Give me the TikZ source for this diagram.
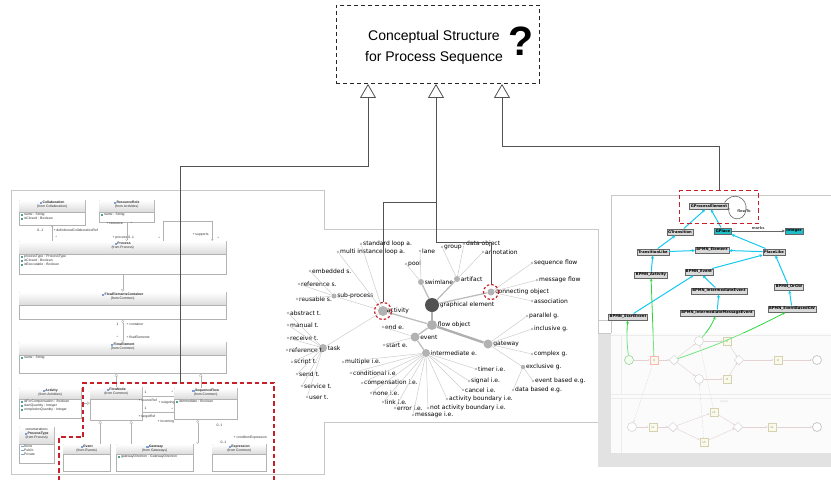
\documentclass[tikz,border=0pt]{standalone}
\usepackage{fontspec}
\setmainfont{Liberation Sans}
\newfontfamily\dvs{DejaVu Sans}
\usetikzlibrary{arrows.meta,calc,shapes.geometric}

\definecolor{redd}{RGB}{200,32,40}
\definecolor{framec}{RGB}{200,200,200}
\definecolor{cyanl}{RGB}{20,200,240}
\definecolor{greenl}{RGB}{40,215,60}
\definecolor{placec}{RGB}{30,190,200}
\definecolor{umlblue}{RGB}{120,160,220}
\definecolor{umlteal}{RGB}{80,160,150}
\definecolor{flowc}{RGB}{215,185,185}
\definecolor{taskd}{RGB}{195,185,140}
\definecolor{taskf}{RGB}{248,248,222}

\newcommand\umlfont{\fontsize{3.4}{4}\selectfont}
\newcommand\trfont{\dvs\fontsize{6}{6.5}\selectfont}
\newcommand\mmfont{\dvs\bfseries\fontsize{3.7}{4}\selectfont}
\newcommand\bpfont{\fontsize{3}{3}\selectfont}
\newcommand\uicon{\textcolor{umlblue}{\rule{2.2pt}{2.2pt}}\hspace{0.5pt}}
\newcommand\aicon{\textcolor{umlteal}{\rule{2.4pt}{2pt}}\hspace{0.6pt}}
\newcommand\licon{\textcolor{umlblue}{\rule[0.6pt]{2.6pt}{0.9pt}}\hspace{0.6pt}}

\tikzset{
  frame/.style={draw=framec, line width=0.7pt},
  conn/.style={draw=black!68, line width=0.85pt},
  gen/.style={conn, -{Triangle[open, length=14pt, width=16pt, line width=0.8pt]}},
  reddash/.style={draw=redd, line width=1.4pt, dash pattern=on 4.5pt off 3pt},
  umlnode/.style={draw=gray!60, fill=white, line width=0.4pt, inner sep=0pt},
  umltitle/.style={font=\umlfont, text=black!85, align=center, inner sep=0.3pt},
  umlattr/.style={font=\umlfont, text=black!80, align=left, inner sep=0.3pt},
  umllbl/.style={font=\umlfont, text=black!80, inner sep=0.3pt, anchor=west},
  umlline/.style={draw=gray!60, line width=0.4pt},
  umlgen/.style={umlline, -{Triangle[open, length=3pt, width=3.5pt]}},
  tnode/.style={circle, fill=gray!60, inner sep=0pt, minimum size=#1},
  tlabel/.style={font=\trfont, text=black, inner sep=0.4pt},
  leaf/.style={circle, fill=gray!55, inner sep=0pt, minimum size=2.8pt,
    label={[tlabel]right:#1}},
  tthick/.style={draw=gray!62, line width=2.4pt},
  tmed/.style={draw=gray!52, line width=1.3pt},
  tthin/.style={draw=gray!40, line width=0.5pt},
  mm/.style={draw=black!60, fill=gray!30, font=\mmfont, inner sep=1.2pt,
    minimum height=6.5pt, line width=0.5pt},
  mmc/.style={mm, fill=placec},
  cy/.style={draw=cyanl, line width=1pt, -{Stealth[length=3.2pt, width=3.2pt]}},
  gr/.style={draw=greenl, line width=0.8pt, -{Stealth[length=3pt, width=2.8pt]}},
  bcirc/.style={circle, draw=gray!55, fill=white, minimum size=9pt, inner sep=0pt, line width=0.5pt},
  btask/.style={draw=taskd, fill=taskf, minimum width=8.5pt, minimum height=7.5pt,
    inner sep=0pt, font=\bpfont, text=black!60, line width=0.4pt},
  bdiam/.style={diamond, draw=gray!55, fill=white, minimum size=9.5pt, inner sep=0pt, line width=0.5pt},
  bflow/.style={draw=flowc, line width=0.4pt, -{Stealth[length=2pt, width=2pt]}},
  bdflow/.style={bflow, dash pattern=on 1pt off 1pt},
  lanec/.style={draw=gray!22, line width=0.5pt}
}

% UML class box: name, x, y, width, height, header height, title, package
\newcommand\umlbox[8]{%
  \node[umlnode, minimum width=#4pt, minimum height=#5pt, anchor=north west] (#1) at (#2,#3) {};
  \shade[top color=white, bottom color=gray!28]
    ([shift={(0.3pt,-0.3pt)}]#1.north west) rectangle ([shift={(-0.3pt,-#6pt)}]#1.north east);
  \draw[umlline] ([yshift=-#6pt]#1.north west) -- ([yshift=-#6pt]#1.north east);
  \node[umltitle, anchor=north] (#1-t) at ([yshift=-1pt]#1.north) {\uicon\textbf{#7}\\(from #8)};
}
\newcommand\umlattrs[3]{%
  \node[umlattr, anchor=north west, yshift=-1pt] (#1-a) at ([shift={(1.5pt,-#2pt)}]#1.north west) {#3};
}

\begin{document}
\begin{tikzpicture}[x=1pt, y=-1pt]
\useasboundingbox (0,0) rectangle (831,480);

% ---------- panel outlines ----------
\draw[frame] (324,229) -- (324,190) -- (11,190) -- (11,474) -- (324,474) -- (324,422);
\draw[frame] (324,229) -- (598,229) -- (598,333);
\draw[frame] (324,422) -- (598,422);
\draw[frame] (611,333) -- (611,195) -- (831,195);

% ---------- title box ----------
\node[draw=black!85, line width=0.9pt, dash pattern=on 4pt off 3pt,
      minimum width=203pt, minimum height=78pt, anchor=north west] (q) at (336,5) {};
\node[font=\fontsize{14}{21}\selectfont, align=center] (ttl) at (434,47)
  {Conceptual Structure\\for Process Sequence};
\node[font=\bfseries\fontsize{41}{41}\selectfont] (qm) at (521,41) {?};

% ---------- UML class diagram ----------
\umlbox{collab}{19}{200}{66}{25}{12}{Collaboration}{Collaboration}
\umlattrs{collab}{12}{\aicon name : String\\\aicon isClosed : Boolean}
\umlbox{resrole}{99}{200}{55}{22}{12}{ResourceRole}{Activities}
\umlattrs{resrole}{12}{\aicon name : String}
\umlbox{proc}{19}{241}{207}{33}{13}{Process}{Process}
\umlattrs{proc}{13}{\aicon processType : ProcessType\\\aicon isClosed : Boolean\\\aicon isExecutable : Boolean}
\umlbox{fec}{19}{292}{207}{27}{13}{FlowElementsContainer}{Common}
\umlbox{fe}{19}{342}{207}{31}{13}{FlowElement}{Common}
\umlattrs{fe}{13}{\aicon name : String}
\umlbox{uact}{19}{388}{62}{30}{11}{Activity}{Activities}
\umlattrs{uact}{11}{\aicon isForCompensation : Boolean\\\aicon startQuantity : Integer\\\aicon completionQuantity : Integer}
\umlbox{fn}{90}{387}{52}{33}{12}{FlowNode}{Common}
\umlbox{sf}{174}{388}{63}{31}{11}{SequenceFlow}{Common}
\umlattrs{sf}{11}{\aicon isImmediate : Boolean}
\umlbox{evt}{63}{444}{47}{27}{10}{Event}{Events}
\umlbox{gwy}{116}{444}{77}{27}{10}{Gateway}{Gateways}
\umlattrs{gwy}{10}{\aicon gatewayDirection : GatewayDirection}
\umlbox{expr}{212}{444}{54}{27}{10}{Expression}{Common}

\node[umlnode, minimum width=35pt, minimum height=36pt, anchor=north west] (ptype) at (19,427) {};
\shade[top color=white, bottom color=gray!28]
  ([shift={(0.3pt,-0.3pt)}]ptype.north west) rectangle ([shift={(-0.3pt,-17pt)}]ptype.north east);
\draw[umlline] ([yshift=-17pt]ptype.north west) -- ([yshift=-17pt]ptype.north east);
\node[umltitle, anchor=north] (ptype-t) at ([yshift=-0.8pt]ptype.north)
  {«enumeration»\\\uicon\textbf{ProcessType}\\(from Process)};
\node[umlattr, anchor=north west] (ptype-a) at ([shift={(1.5pt,-18pt)}]ptype.north west)
  {\licon None\\\licon Public\\\licon Private};

% UML associations
\draw[umlline, {Straight Barb[length=1.5pt, width=2.2pt]}-] (collab.south) -- (collab.south |- proc.north);
\draw[umlline, -{Straight Barb[length=1.5pt, width=2.2pt]}] (resrole.south) -- (resrole.south |- proc.north);
\draw[umlline, -{Straight Barb[length=1.5pt, width=2.2pt]}]
  ([xshift=40.5pt]proc.north) -- ++(0,-20) -| ([xshift=89.5pt]proc.north);
\draw[umlgen] (proc.south) -- (fec.north);
\draw[umlline, {Diamond[open, length=4pt, width=2.6pt]}-{Straight Barb[length=1.5pt, width=2.2pt]}]
  (fec.south) -- (fe.north);
\draw[umlgen] (fn.north) -- (fn.north |- fe.south);
\draw[umlgen] ([xshift=-5pt]sf.north) -- ([xshift=-5pt]sf.north |- fe.south);
\draw[umlgen] (uact.east) -- (uact.east -| fn.west);
\draw[umlline] ([yshift=-9pt]fn.north east) -- ([yshift=-9pt]fn.north east -| sf.west);
\draw[umlline] ([yshift=-25pt]fn.north east) -- ([yshift=-25pt]fn.north east -| sf.west);
\draw[umlgen] ([xshift=13.5pt]evt.north) -- ([xshift=13.5pt]evt.north |- fn.south);
\draw[umlgen] ([xshift=-23.5pt]gwy.north) -- ([xshift=-23.5pt]gwy.north |- fn.south);
\draw[umlline, {Diamond[open, length=4pt, width=2.6pt]}-{Straight Barb[length=1.5pt, width=2.2pt]}]
  ([xshift=-8pt]sf.south) -- ([xshift=-8pt]sf.south |- expr.north);

% association end labels
\node[umllbl] (la1) at (37,230) {0..1};
\node[umllbl] (la2) at (53,230) {+ definitionalCollaborationRef};
\node[umllbl] (la3) at (55,237) {*};
\node[umllbl] (la4) at (106,224) {+ resource};
\node[umllbl] (la5) at (130,223) {*};
\node[umllbl] (la6) at (112,238) {+ process 0..1};
\node[umllbl] (la7) at (158,238) {*};
\node[umllbl] (la8) at (192,235) {+ supports};
\node[umllbl] (la9) at (217,238) {*};
\node[umllbl] (lb1) at (116,324) {1};
\node[umllbl] (lb2) at (126,324) {+ container};
\node[umllbl] (lb3) at (116,337) {*};
\node[umllbl] (lb4) at (126,337) {+ flowElements};
\node[umllbl] (lc1) at (144,392) {1};
\node[umllbl] (lc2) at (138,400) {+ sourceRef};
\node[umllbl] (lc3) at (158,403) {+ outgoing};
\node[umllbl] (lc4) at (171,392) {*};
\node[umllbl] (lc5) at (144,408) {1};
\node[umllbl] (lc6) at (138,417) {+ targetRef};
\node[umllbl] (lc7) at (157,422) {+ incoming};
\node[umllbl] (lc8) at (171,409) {*};
\node[umllbl] (ld1) at (216,425) {0..1};
\node[umllbl] (ld2) at (233,438) {+ conditionExpression};
\node[umllbl] (ld3) at (220,442) {0..1};

% highlighted region of the class diagram
\draw[reddash] (59,480) |- (83,437) |- (274,383) -- (274,480);
\coordinate (lhook) at (180,383);

% ---------- BPMN taxonomy tree ----------
\node[tnode=14pt, fill=black!68, label={[tlabel]right:graphical element}] (ge) at (432,305) {};
\node[tnode=10pt, fill=gray!62, label={[tlabel]right:flow object}] (fo) at (432,325) {};
\node[tnode=6pt, label={[tlabel]right:swimlane}] (sw) at (421,282) {};
\node[tnode=6pt, label={[tlabel]right:artifact}] (ar) at (457,279) {};
\node[tnode=7pt, label={[tlabel]right:connecting object}] (co) at (491,292) {};
\node[tnode=10pt, label={[tlabel, xshift=-2pt]right:activity}] (tact) at (383,311) {};
\node[tnode=9pt, label={[tlabel]right:event}] (ev) at (415,337) {};
\node[tnode=9pt, label={[tlabel]right:gateway}] (gw) at (488,344) {};
\node[tnode=8pt, label={[tlabel]right:intermediate e.}] (ie) at (426,353) {};
\node[tnode=8pt, label={[tlabel]right:task}] (task) at (323,348) {};
\node[tnode=5pt, label={[tlabel]right:sub-process}] (sub) at (334,296) {};
\node[tnode=4.5pt, label={[tlabel]right:exclusive g.}] (exc) at (523,367) {};

\node[leaf=pool] (pool) at (406,264) {};
\node[leaf=lane] (lane) at (420,251) {};
\node[leaf=group] (grp) at (442,247) {};
\node[leaf=data object] (dobj) at (464,244) {};
\node[leaf=annotation] (annot) at (483,252) {};
\node[leaf=sequence flow] (seqf) at (532,263) {};
\node[leaf=message flow] (msgf) at (537,280) {};
\node[leaf=association] (assoc) at (532,301) {};
\node[leaf=standard loop a.] (sla) at (361,244) {};
\node[leaf=multi instance loop a.] (mila) at (338,252) {};
\node[leaf=embedded s.] (emb) at (310,271) {};
\node[leaf=reference s.] (refs) at (299,284) {};
\node[leaf=reusable s.] (reus) at (297,299) {};
\node[leaf=abstract t.] (abst) at (288,313) {};
\node[leaf=manual t.] (man) at (288,325) {};
\node[leaf=receive t.] (recv) at (288,338) {};
\node[leaf=reference t.] (reft) at (287,350) {};
\node[leaf=script t.] (scr) at (292,362) {};
\node[leaf=send t.] (send) at (297,374) {};
\node[leaf=service t.] (serv) at (302,386) {};
\node[leaf=user t.] (user) at (307,397) {};
\node[leaf=end e.] (ende) at (383,327) {};
\node[leaf=start e.] (stae) at (384,345) {};
\node[leaf=multiple i.e.] (mul) at (343,362) {};
\node[leaf=conditional i.e.] (cond) at (351,373) {};
\node[leaf=compensation i.e.] (comp) at (362,383) {};
\node[leaf=none i.e.] (none) at (371,393) {};
\node[leaf=link i.e.] (link) at (383,402) {};
\node[leaf=error i.e.] (err) at (395,408) {};
\node[leaf=message i.e.] (msg) at (413,415) {};
\node[leaf=not activity boundary i.e.] (nab) at (428,408) {};
\node[leaf=activity boundary i.e.] (ab) at (447,399) {};
\node[leaf=cancel i.e.] (canc) at (463,390) {};
\node[leaf=signal i.e.] (sig) at (469,381) {};
\node[leaf=timer i.e.] (tim) at (476,369) {};
\node[leaf=parallel g.] (par) at (527,316) {};
\node[leaf=inclusive g.] (inc) at (532,329) {};
\node[leaf=complex g.] (cpx) at (532,354) {};
\node[leaf=event based e.g.] (ebeg) at (533,381) {};
\node[leaf=data based e.g.] (dbeg) at (513,390) {};

\draw[tthick] (ge) -- (fo);
\draw[tthick] (fo) -- (gw);
\foreach \c in {sw,ar,co} \draw[tmed] (ge) -- (\c);
\foreach \c in {tact,ev} \draw[tmed] (fo) -- (\c);
\draw[tmed] (ev) -- (ie);
\foreach \c in {pool,lane} \draw[tthin] (sw) -- (\c);
\foreach \c in {grp,dobj,annot} \draw[tthin] (ar) -- (\c);
\foreach \c in {seqf,msgf,assoc} \draw[tthin] (co) -- (\c);
\foreach \c in {sla,mila,sub,task} \draw[tthin] (tact) -- (\c);
\foreach \c in {emb,refs,reus} \draw[tthin] (sub) -- (\c);
\foreach \c in {abst,man,recv,reft,scr,send,serv,user} \draw[tthin] (task) -- (\c);
\foreach \c in {ende,stae} \draw[tthin] (ev) -- (\c);
\foreach \c in {mul,cond,comp,none,link,err,msg,nab,ab,canc,sig,tim} \draw[tthin] (ie) -- (\c);
\foreach \c in {par,inc,cpx,exc} \draw[tthin] (gw) -- (\c);
\foreach \c in {ebeg,dbeg} \draw[tthin] (exc) -- (\c);

\node[circle, draw=redd, line width=1.2pt, dash pattern=on 2.5pt off 2pt, minimum size=17pt] (actring) at (tact.center) {};
\node[circle, draw=redd, line width=1.2pt, dash pattern=on 2.5pt off 2pt, minimum size=15pt] (coring) at (co.center) {};

% ---------- process model (lower right) ----------
\fill[gray!23] (598,333) rectangle (611,467);
\fill[gray!23] (598,453) rectangle (831,467);
\draw[frame] (598,320) rectangle (611,333);
\fill[gray!4] (611,333) rectangle (831,453);
\draw[lanec] (611,335) -- (831,335);
\draw[lanec] (611,394) -- (831,394);
\draw[lanec] (611,398) -- (831,398);
\draw[lanec] (621,335) -- (621,394);
\draw[lanec] (621,398) -- (621,453);
\node[font=\bpfont, text=gray!55] (pool2) at (724,402) {pool2};

\node[bcirc, fill=green!8, draw=green!35!gray] (ps) at (629,360) {};
\node[btask, draw=red!45] (pt1) at (654,360) {t1};
\node[bdiam] (pd1) at (674,360) {};
\node[bcirc] (pc1) at (699,341) {};
\node[btask] (pt2) at (727,341) {t2};
\node[bcirc] (pc2) at (699,379) {};
\node[btask] (pt3) at (727,379) {t3};
\node[bdiam] (pd2) at (739,360) {};
\node[btask] (pt4) at (778,360) {t4};
\node[bcirc, line width=0.8pt, draw=gray!65] (pe1) at (817,360) {};
\node[bcirc] (qc) at (632,427) {};
\node[btask] (qs1) at (653,427) {s1};
\node[bdiam] (qd1) at (673,427) {};
\node[btask] (qs2) at (714,412) {s2};
\node[btask] (qs3) at (704,442) {s3};
\node[bdiam] (qd2) at (738,427) {};
\node[btask] (qs4) at (772,427) {s4};
\node[bcirc, line width=0.8pt, draw=gray!65] (qe) at (817,427) {};

\draw[bflow] (ps) -- (pt1);
\draw[bflow] (pt1) -- (pd1);
\draw[bflow] (pd1) -- (pc1);
\draw[bflow] (pd1) -- (pc2);
\draw[bflow] (pc1) -- (pt2);
\draw[bflow] (pc2) -- (pt3);
\draw[bflow] (pt2) -- (pd2);
\draw[bflow] (pt3) -- (pd2);
\draw[bflow] (pd2) -- (pt4);
\draw[bflow] (pt4) -- (pe1);
\draw[bflow] (qc) -- (qs1);
\draw[bflow] (qs1) -- (qd1);
\draw[bflow] (qd1) -- (qs2);
\draw[bflow] (qd1) -- (qs3);
\draw[bflow] (qs2) -- (qd2);
\draw[bflow] (qs3) -- (qd2);
\draw[bflow] (qd2) -- (qs4);
\draw[bflow] (qs4) -- (qe);
\draw[bdflow] (pt1) -- (qc);
\draw[bdflow] (qs3) -- (pc2);
\draw[bdflow] (qs2) -- (pc1);

% ---------- metamodel graph (upper right) ----------
\node[mm] (gpe) at (709,206) {GProcessElement};
\node[mm] (gtr) at (680,232) {GTransition};
\node[mmc] (gpl) at (723,231) {GPlace};
\node[mmc] (intg) at (794,231) {Integer};
\node[mm] (trl) at (653,252) {TransitionLike};
\node[mm] (bel) at (712,250) {BPMN\_Element};
\node[mm] (pll) at (774,252) {PlaceLike};
\node[mm] (bac) at (651,275) {BPMN\_Activity};
\node[mm] (bev) at (699,272) {BPMN\_Event};
\node[mm] (bie) at (719,291) {BPMN\_IntermediateEvent};
\node[mm] (bor) at (789,287) {BPMN\_OrGW};
\node[mm] (bse) at (628,317) {BPMN\_StartEvent};
\node[mm] (bim) at (717,313) {BPMN\_IntermediateMessageEvent};
\node[mm] (beb) at (792,309) {BPMN\_EventBasedGW};

\draw[cy] (gtr) -- (gpe);
\draw[cy] (gpl) -- (gpe);
\draw[cy] (trl) -- (gtr);
\draw[cy] (trl) -- (bel);
\draw[cy] (pll) -- (bel);
\draw[cy] (pll) -- (gpl);
\draw[cy] (bac) -- (trl);
\draw[cy] (bev) -- (pll);
\draw[cy] (bor) -- (pll);
\draw[cy] (bie) -- (bev);
\draw[cy] (bse) -- (bev);
\draw[cy] (bim) -- (bie);
\draw[cy] (beb) -- (bor);
\draw[draw=black!60, line width=0.8pt, -{Stealth[length=3pt, width=3pt]}] (gpl) --
  node[font=\mmfont, text=black!70, above, inner sep=0.6pt] (marks) {marks} (intg);
\draw[draw=black!60, line width=0.6pt, -{Stealth[length=2.5pt, width=2.5pt]}]
  ([xshift=-4pt]gpe.north east) .. controls (733,190) and (748,198) .. (746,210)
  .. controls (744,223) and (728,221) .. ([yshift=-1pt]gpe.east);
\node[font=\mmfont, text=black!70] (flowto) at (744,211) {flowTo};

% links from process elements to metamodel classes
\draw[gr] (ps) to[bend left=6] (bse);
\draw[gr] (pt1) -- (bac);
\draw[gr] (pc1) to[bend right=8] (bim);
\draw[gr] (pd1) to[bend right=4] (beb);
% the process screenshot is washed out
\fill[white, fill opacity=0.35] (611,333) rectangle (831,453);

\node[draw=redd, line width=1.4pt, dash pattern=on 4.5pt off 3pt,
      minimum width=79pt, minimum height=33pt, anchor=north west] (gbox) at (679,190) {};

% ---------- generalisation connectors to the concept box ----------
\draw[gen] (lhook) |- (368,166) -- ($(q.south west)+(32,0)$);
\draw[gen] (actring.north) |- (436,202) -- ($(q.south west)+(100,0)$);
\draw[conn] (coring.north) |- (436,242) -- (436,202);
\draw[gen] (gbox.north) |- (502,146) -- ($(q.south west)+(166,0)$);
\end{tikzpicture}
\end{document}
